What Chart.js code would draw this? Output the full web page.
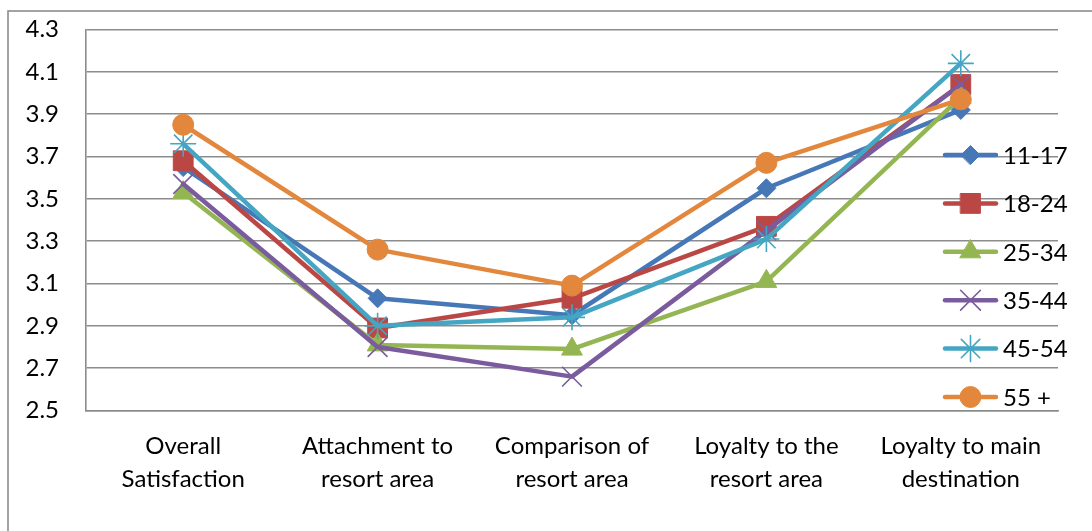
<!DOCTYPE html>
<html>
<head>
<meta charset="utf-8">
<script src="https://cdn.jsdelivr.net/npm/chart.js@4.4.1/dist/chart.umd.min.js"></script>
<style>
  html, body { margin: 0; padding: 0; background: #ffffff; }
  #wrap { width: 1092px; height: 531px; position: relative; }
</style>
</head>
<body>
<div id="wrap"><canvas id="c" width="1092" height="531"></canvas></div>
<script>
// Survey dimensions (x axis), two-line labels
const categories = [
  ['Overall', 'Satisfaction'],
  ['Attachment to', 'resort area'],
  ['Comparison of', 'resort area'],
  ['Loyalty to the', 'resort area'],
  ['Loyalty to main', 'destination']
];

// Age groups (one line per group)
const ageGroups = ['11-17', '18-24', '25-34', '35-44', '45-54', '55 +'];

// Mean scores per age group, in category order
const age11to17 = [3.65, 3.03, 2.95, 3.55, 3.92];
const age18to24 = [3.68, 2.89, 3.03, 3.37, 4.04];
const age25to34 = [3.53, 2.81, 2.79, 3.11, 3.98];
const age35to44 = [3.57, 2.80, 2.66, 3.35, 4.04];
const age45to54 = [3.76, 2.90, 2.94, 3.31, 4.14];
const age55plus = [3.85, 3.26, 3.09, 3.67, 3.97];

// Value axis tick labels
const yTickValues = [2.5, 2.7, 2.9, 3.1, 3.3, 3.5, 3.7, 3.9, 4.1, 4.3];

const seriesValues = [age11to17, age18to24, age25to34, age35to44, age45to54, age55plus];

// Line / marker look for each age group
const seriesStyles = [
  { color: '#4677b6', marker: 'rectRot',  radius: 9.5, markerBorder: 1 },
  { color: '#bb4744', marker: 'rect',     radius: 14,  markerBorder: 1 },
  { color: '#94b652', marker: 'triangle', radius: 12,  markerBorder: 1 },
  { color: '#7a5c9e', marker: 'crossRot', radius: 14,  markerBorder: 1.6 },
  { color: '#44a6c2', marker: 'star',     radius: 13,  markerBorder: 1.6 },
  { color: '#e2873c', marker: 'circle',   radius: 10.5, markerBorder: 1 }
];

const FONT = 'Lato';
const FONT_SIZE = 24;
const GRID = '#8c8c8c';

const datasets = ageGroups.map((name, i) => ({
  label: name,
  data: seriesValues[i],
  borderColor: seriesStyles[i].color,
  backgroundColor: seriesStyles[i].color,
  borderWidth: 4.5,
  borderCapStyle: 'round',
  borderJoinStyle: 'round',
  pointStyle: seriesStyles[i].marker,
  pointRadius: seriesStyles[i].radius,
  pointHoverRadius: seriesStyles[i].radius,
  pointBackgroundColor: seriesStyles[i].color,
  pointBorderColor: seriesStyles[i].color,
  pointBorderWidth: seriesStyles[i].markerBorder,
  tension: 0,
  fill: false,
  clip: false,
  order: ageGroups.length - i
}));

// Outer frame of the chart
const framePlugin = {
  id: 'frame',
  beforeDraw(chart) {
    const ctx = chart.ctx;
    ctx.save();
    ctx.strokeStyle = GRID;
    ctx.lineWidth = 1.6;
    ctx.strokeRect(8, 11, 1200, 700);
    ctx.restore();
  }
};

// Legend drawn over the right part of the plot
const sideLegend = {
  id: 'sideLegend',
  afterDatasetsDraw(chart) {
    const ctx = chart.ctx;
    const x0 = 945, x1 = 996, xm = 970.5, xt = 1003;
    chart.data.datasets.forEach((ds, i) => {
      const y = 155 + i * 48.4;
      ctx.save();
      ctx.strokeStyle = ds.borderColor;
      ctx.lineWidth = ds.borderWidth;
      ctx.lineCap = 'round';
      ctx.beginPath();
      ctx.moveTo(x0, y);
      ctx.lineTo(x1, y);
      ctx.stroke();
      ctx.fillStyle = ds.pointBackgroundColor;
      ctx.strokeStyle = ds.pointBorderColor;
      ctx.lineWidth = ds.pointBorderWidth;
      Chart.helpers.drawPoint(ctx, {
        pointStyle: ds.pointStyle,
        radius: ds.pointRadius,
        rotation: 0,
        borderWidth: ds.pointBorderWidth
      }, xm, y);
      ctx.fillStyle = '#000000';
      ctx.font = FONT_SIZE + 'px ' + FONT;
      ctx.textBaseline = 'middle';
      ctx.textAlign = 'left';
      ctx.fillText(ds.label, xt, y + 1);
      ctx.restore();
    });
  }
};

new Chart(document.getElementById('c'), {
  type: 'line',
  data: { labels: categories, datasets },
  plugins: [framePlugin, sideLegend],
  options: {
    responsive: false,
    animation: false,
    devicePixelRatio: 1,
    layout: { padding: { left: 8, right: 34, top: 29.5, bottom: 0 } },
    plugins: {
      legend: { display: false },
      tooltip: { enabled: false }
    },
    scales: {
      x: {
        type: 'category',
        offset: true,
        grid: { display: false, drawTicks: false },
        border: { display: true, color: GRID, width: 1.6 },
        ticks: {
          color: '#000000',
          font: { family: FONT, size: FONT_SIZE, lineHeight: 1.39 },
          padding: 19,
          maxRotation: 0,
          autoSkip: false
        },
        afterFit(scale) { scale.height = 120.5; }
      },
      y: {
        min: 2.5,
        max: 4.3,
        grid: { color: GRID, lineWidth: 1.6, drawTicks: false },
        border: { display: true, color: GRID, width: 1.6 },
        ticks: {
          color: '#000000',
          font: { family: FONT, size: FONT_SIZE },
          padding: 27,
          callback: v => v.toFixed(1)
        },
        afterBuildTicks(scale) {
          scale.ticks = yTickValues.map(v => ({ value: v }));
        },
        afterFit(scale) {
          scale.width = 78;
          scale.paddingTop = 0;
          scale.paddingBottom = 0;
        }
      }
    }
  }
});
</script>
</body>
</html>
